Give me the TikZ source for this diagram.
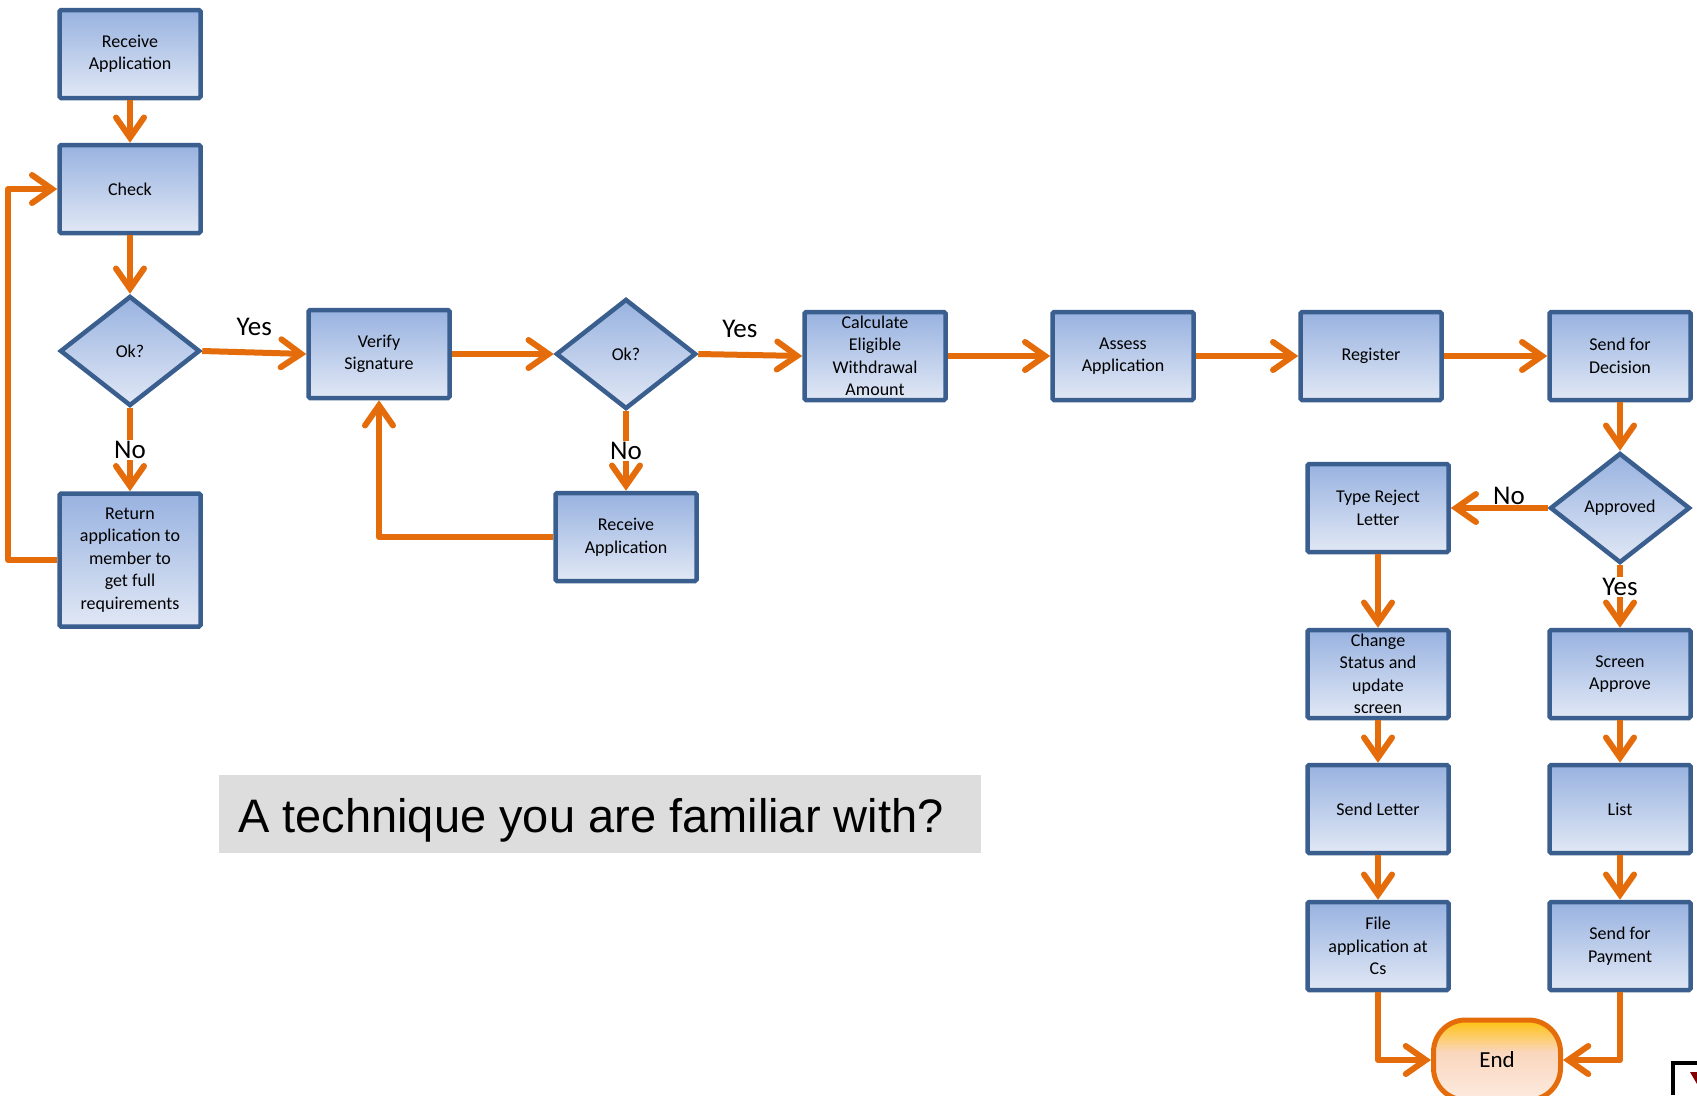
\documentclass[tikz,border=0pt]{standalone}
\usepackage{fontspec}
\setmainfont{Carlito}
\newfontfamily\arialfont{Liberation Sans}
\usetikzlibrary{shapes.geometric,arrows.meta}
\definecolor{boxline}{HTML}{3A5F8F}
\definecolor{boxtop}{HTML}{98B2E0}
\definecolor{boxbot}{HTML}{E1E8F5}
\definecolor{flow}{HTML}{E46C0A}
\definecolor{endtop}{HTML}{FFC20E}
\definecolor{endmid}{HTML}{FAD6BD}
\definecolor{endbot}{HTML}{FDEBE0}
\definecolor{qgrey}{HTML}{DDDDDD}
\pgfdeclareverticalshading{endshade}{100bp}{color(0bp)=(endbot); color(25bp)=(endbot);
  color(55bp)=(endmid); color(75bp)=(endtop); color(100bp)=(endtop)}

\tikzset{
  proc/.style={draw=boxline, line width=4.5pt, top color=boxtop, bottom color=boxbot,
    minimum width=141pt, minimum height=88pt, inner sep=1pt, align=center,
    rounded corners=1.5pt, font=\fontsize{18}{22.5}\selectfont},
  decide/.style={diamond, draw=boxline, line width=4.5pt, top color=boxtop, bottom color=boxbot,
    minimum width=140pt, minimum height=110pt, inner sep=0pt, font=\fontsize{18}{22.5}\selectfont},
  flowline/.style={draw=flow, line width=6pt, line join=round,
    -{Straight Barb[length=20pt,width=28pt,line cap=round]}},
  lbl/.style={font=\fontsize{27}{30}\selectfont, inner sep=1pt}
}

\begin{document}
\begin{tikzpicture}[x=1pt,y=1pt,yscale=-1,xscale=1]
\useasboundingbox (0,0) rectangle (1697,1095);

%Shape: Rectangle [first column]
\node[proc] (rcv) at (130,54) {Receive\\Application};
\node[proc] (chk) at (130,189) {Check};
\node[decide] (ok1) at (130,351) {Ok?};
\node[proc, minimum height=133pt] (ret) at (130,560) {Return\\application to\\member to\\get full\\requirements};

%Shape: Rectangle [main row]
\node[proc] (ver) at (379,354) {Verify\\Signature};
\node[decide] (ok2) at (626,354) {Ok?};
\node[proc] (rcv2) at (626,537) {Receive\\Application};
\node[proc] (calc) at (875,356) {Calculate\\Eligible\\Withdrawal\\Amount};
\node[proc] (asm) at (1123,356) {Assess\\Application};
\node[proc] (reg) at (1371,356) {Register};
\node[proc] (dec) at (1620,356) {Send for\\Decision};

%Shape: Rectangle [decision branches]
\node[decide] (appr) at (1620,508) {Approved};
\node[proc] (rej) at (1378,508) {Type Reject\\Letter};
\node[proc] (chg) at (1378,674) {Change\\Status and\\update\\screen};
\node[proc] (lett) at (1378,809) {Send Letter};
\node[proc] (file) at (1378,946) {File\\application at\\Cs};
\node[proc] (scr) at (1620,674) {Screen\\Approve};
\node[proc] (lst) at (1620,809) {List};
\node[proc] (pay) at (1620,946) {Send for\\Payment};

%Shape: Terminator
\node[draw=flow, line width=5pt, shading=endshade, rounded corners=32pt,
  minimum width=127pt, minimum height=80pt,
  font=\fontsize{23}{26}\selectfont] (endn) at (1497,1060) {End};

%Straight Lines
\draw[flowline] (rcv) -- (chk);
\draw[flowline] (chk) -- (ok1);
\draw[flowline] (ok1.east) -- node[lbl, above=13pt] {Yes} (ver.west);
\draw[flowline] (ok1.south) -- node[lbl, fill=white] {No} (ret.north);
\draw[flowline] (ret.west) -- ++(-49,0) |- (chk.west);
\draw[flowline] (ver.east) -- (ok2.west);
\draw[flowline] (ok2.east) -- node[lbl, above=13pt, pos=0.4] {Yes} (calc.west);
\draw[flowline] (ok2.south) -- node[lbl, fill=white] {No} (rcv2.north);
\draw[flowline] (rcv2.west) -| (ver.south);
\draw[flowline] (calc) -- (asm);
\draw[flowline] (asm) -- (reg);
\draw[flowline] (reg) -- (dec);
\draw[flowline] (dec) -- (appr);
\draw[flowline] (appr.west) -- node[lbl, above, pos=0.4, inner sep=0pt] {No} (rej.east);
\draw[flowline] (appr.south) -- node[lbl, fill=white, pos=0.35] {Yes} (scr.north);
\draw[flowline] (rej) -- (chg);
\draw[flowline] (chg) -- (lett);
\draw[flowline] (lett) -- (file);
\draw[flowline] (scr) -- (lst);
\draw[flowline] (lst) -- (pay);
\draw[flowline] (file.south) |- (endn.west);
\draw[flowline] (pay.south) |- (endn.east);

% Text Node
\fill[qgrey] (219,775) rectangle (981,853);
\node[anchor=base west, inner sep=0pt, font=\arialfont\fontsize{47}{50}\selectfont] (quest) at (238,832) {A technique you are familiar with?};

%corner icon
\draw[line width=4pt] (1673,1095) -- (1673,1063) -- (1697,1063);
\fill[red!50!black] (1690,1072) -- (1697,1072) -- (1697,1084) -- cycle;
\end{tikzpicture}
\end{document}
